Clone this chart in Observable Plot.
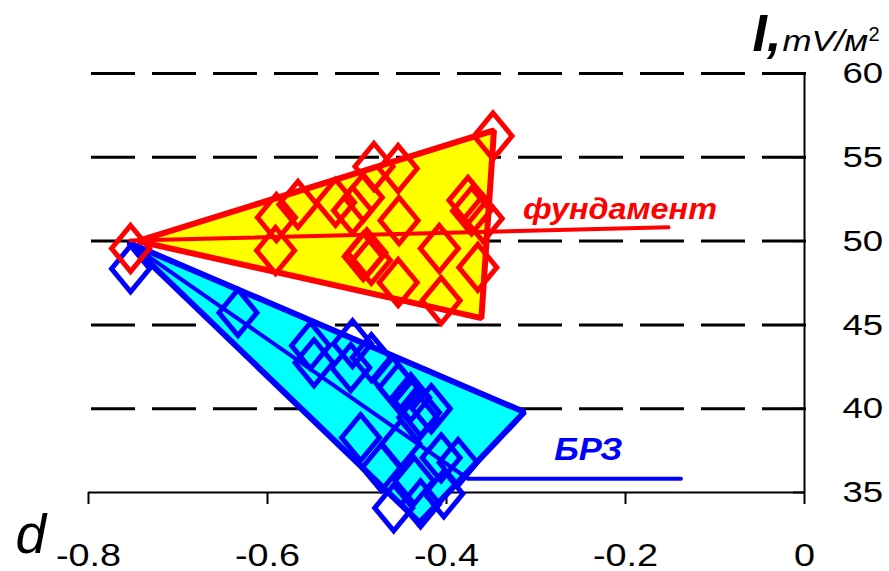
<!DOCTYPE html>
<html>
<head>
<meta charset="utf-8">
<script src="https://cdn.jsdelivr.net/npm/d3@7"></script>
<script src="https://cdn.jsdelivr.net/npm/@observablehq/plot@0.6"></script>
<style>
  html, body { margin: 0; padding: 0; background: #fff; }
  #chart { width: 889px; height: 571px; }
</style>
</head>
<body>
<div id="chart"></div>
<script>
// Foundation (фундамент) measurements: d and I, mV/м²
const fundamentD = [-0.753, -0.591, -0.590, -0.566, -0.524, -0.505, -0.493, -0.481, -0.454, -0.453,
                    -0.493, -0.484, -0.489, -0.454, -0.408, -0.406, -0.376, -0.372, -0.359, -0.365, -0.348];
const fundamentI = [49.56, 49.44, 51.41, 52.19, 52.31, 51.83, 52.60, 54.45, 54.33, 51.23,
                    49.08, 48.85, 49.30, 47.53, 49.56, 46.45, 52.43, 51.80, 51.35, 48.43, 56.27];

// БРЗ measurements
const brzD = [-0.753, -0.633, -0.552, -0.548, -0.505, -0.484, -0.507, -0.460, -0.454, -0.440, -0.429,
              -0.417, -0.432, -0.496, -0.451, -0.406, -0.473, -0.436, -0.459, -0.429, -0.403, -0.387];
const brzI = [48.35, 45.73, 43.76, 42.74, 43.88, 43.05, 42.45, 41.67, 41.25, 40.66, 39.77,
              40.00, 39.47, 38.27, 37.91, 37.07, 36.48, 35.70, 34.08, 34.32, 34.92, 36.79];

// Outline of each group and the leader line running to its label
const fundamentHullD = [-0.745, -0.347, -0.361];
const fundamentHullI = [50.0, 56.6, 45.4];
const brzHullD = [-0.755, -0.313, -0.430];
const brzHullI = [49.9, 39.8, 33.2];
const fundamentLeaderD = [-0.753, -0.152];
const fundamentLeaderI = [50.04, 50.82];
const brzLeaderD = [-0.755, -0.376, -0.138];
const brzLeaderI = [49.9, 35.82, 35.82];

// Group labels
const groupNames = ["фундамент", "БРЗ"];
const groupLabelD = [-0.3144, -0.2797];
const groupLabelI = [51.89, 37.58];

// Axes
const xTicks = [-0.8, -0.6, -0.4, -0.2, 0];
const yTicks = [35, 40, 45, 50, 55, 60];
const gridValues = [40, 45, 50, 55, 60];

const W = 889, H = 571;
const ML = 88, MR = 85, MT = 73, MB = 79;
const FONT = "'Liberation Sans', Arial, sans-serif";

const pts = (xs, ys) => xs.map((x, i) => ({x, y: ys[i]}));

// Hollow diamond, a little taller than wide
const diamond = {
  draw(ctx) {
    ctx.moveTo(0, -23);
    ctx.lineTo(19, 0);
    ctx.lineTo(0, 23);
    ctx.lineTo(-19, 0);
    ctx.closePath();
  }
};

const chart = Plot.plot({
  width: W,
  height: H,
  marginLeft: ML,
  marginRight: MR,
  marginTop: MT,
  marginBottom: MB,
  style: {fontFamily: FONT, background: "white", overflow: "visible"},
  x: {domain: [-0.8, 0], axis: null},
  y: {domain: [35, 60], axis: null},
  marks: [
    // dashed grid
    Plot.ruleY(gridValues, {stroke: "black", strokeWidth: 3, strokeDasharray: "44,17", dx: 3}),
    // x axis
    Plot.ruleY([35], {stroke: "black", strokeWidth: 2}),
    Plot.axisX({
      anchor: "bottom", ticks: xTicks, tickSize: 12, tickPadding: 39, label: null,
      tickFormat: d => String(d), fontSize: 31, strokeWidth: 2, fontFamily: FONT
    }),
    // right y axis with inward ticks
    Plot.ruleX([0], {y1: 35, y2: 60, stroke: "black", strokeWidth: 2}),
    Plot.ruleY(yTicks, {insetLeft: W - ML - MR - 11, stroke: "black", strokeWidth: 2}),
    Plot.axisY({
      anchor: "right", ticks: yTicks, tickSize: 0, tickPadding: 38, label: null,
      fontSize: 30, fontFamily: FONT
    }),

    // БРЗ group
    Plot.line(pts(brzHullD, brzHullI), {
      x: "x", y: "y", curve: "linear-closed", fill: "#00FFFF", stroke: "#0000FF",
      strokeWidth: 6, strokeLinejoin: "miter"
    }),
    Plot.line(pts(brzLeaderD, brzLeaderI), {x: "x", y: "y", stroke: "#0000FF", strokeWidth: 4}),
    Plot.dot(pts(brzD, brzI), {
      x: "x", y: "y", symbol: diamond, fill: "none", stroke: "#0000FF", strokeWidth: 5
    }),

    // фундамент group
    Plot.line(pts(fundamentHullD, fundamentHullI), {
      x: "x", y: "y", curve: "linear-closed", fill: "#FFFF00", stroke: "#FF0000",
      strokeWidth: 6, strokeLinejoin: "miter"
    }),
    Plot.line(pts(fundamentLeaderD, fundamentLeaderI), {x: "x", y: "y", stroke: "#FF0000", strokeWidth: 4}),
    Plot.dot(pts(fundamentD, fundamentI), {
      x: "x", y: "y", symbol: diamond, fill: "none", stroke: "#FF0000", strokeWidth: 5
    }),

    // group labels
    Plot.text([0], {
      x: groupLabelD[0], y: groupLabelI[0], text: () => groupNames[0], textAnchor: "start",
      fill: "#FF0000", fontSize: 30, fontWeight: "bold", fontStyle: "italic", fontFamily: FONT
    }),
    Plot.text([0], {
      x: groupLabelD[1], y: groupLabelI[1], text: () => groupNames[1], textAnchor: "start",
      fill: "#0000FF", fontSize: 32, fontWeight: "bold", fontStyle: "italic", fontFamily: FONT
    }),

    // axis titles
    Plot.text(["I,"], {
      frameAnchor: "top-right", text: d => d, textAnchor: "start", lineAnchor: "middle",
      dx: -52, dy: -39, fontSize: 52, fontWeight: "bold", fontStyle: "italic", fontFamily: FONT
    }),
    Plot.text(["mV/м"], {
      frameAnchor: "top-right", text: d => d, textAnchor: "start", lineAnchor: "middle",
      dx: -22, dy: -32, fontSize: 29, fontStyle: "italic", fontFamily: FONT
    }),
    Plot.text(["2"], {
      frameAnchor: "top-right", text: d => d, textAnchor: "start", lineAnchor: "middle",
      dx: 64, dy: -39, fontSize: 20, fontFamily: FONT
    }),
    Plot.text(["d"], {
      frameAnchor: "bottom-left", text: d => d, textAnchor: "start", lineAnchor: "middle",
      dx: -73, dy: 43, fontSize: 55, fontStyle: "italic", fontFamily: FONT
    })
  ]
});

document.getElementById("chart").appendChild(chart);

// widen the lettering horizontally: wrap each text in a group scaled about its own box
const widen = {"фундамент": 1.08, "БРЗ": 1.08, "mV/м": 1.2};
chart.querySelectorAll("text").forEach(t => {
  const s = t.textContent;
  let k = widen[s] || 1;
  if (k === 1 && /^-?\d/.test(s) && s !== "2") k = 1.22;
  if (k === 1) return;
  const anchor = getComputedStyle(t).textAnchor || t.getAttribute("text-anchor") || "start";
  const g = document.createElementNS("http://www.w3.org/2000/svg", "g");
  t.parentNode.insertBefore(g, t);
  g.appendChild(t);
  g.style.transformBox = "fill-box";
  g.style.transformOrigin = anchor === "middle" ? "center" : anchor === "end" ? "right center" : "left center";
  g.style.transform = `scaleX(${k})`;
});
</script>
</body>
</html>
